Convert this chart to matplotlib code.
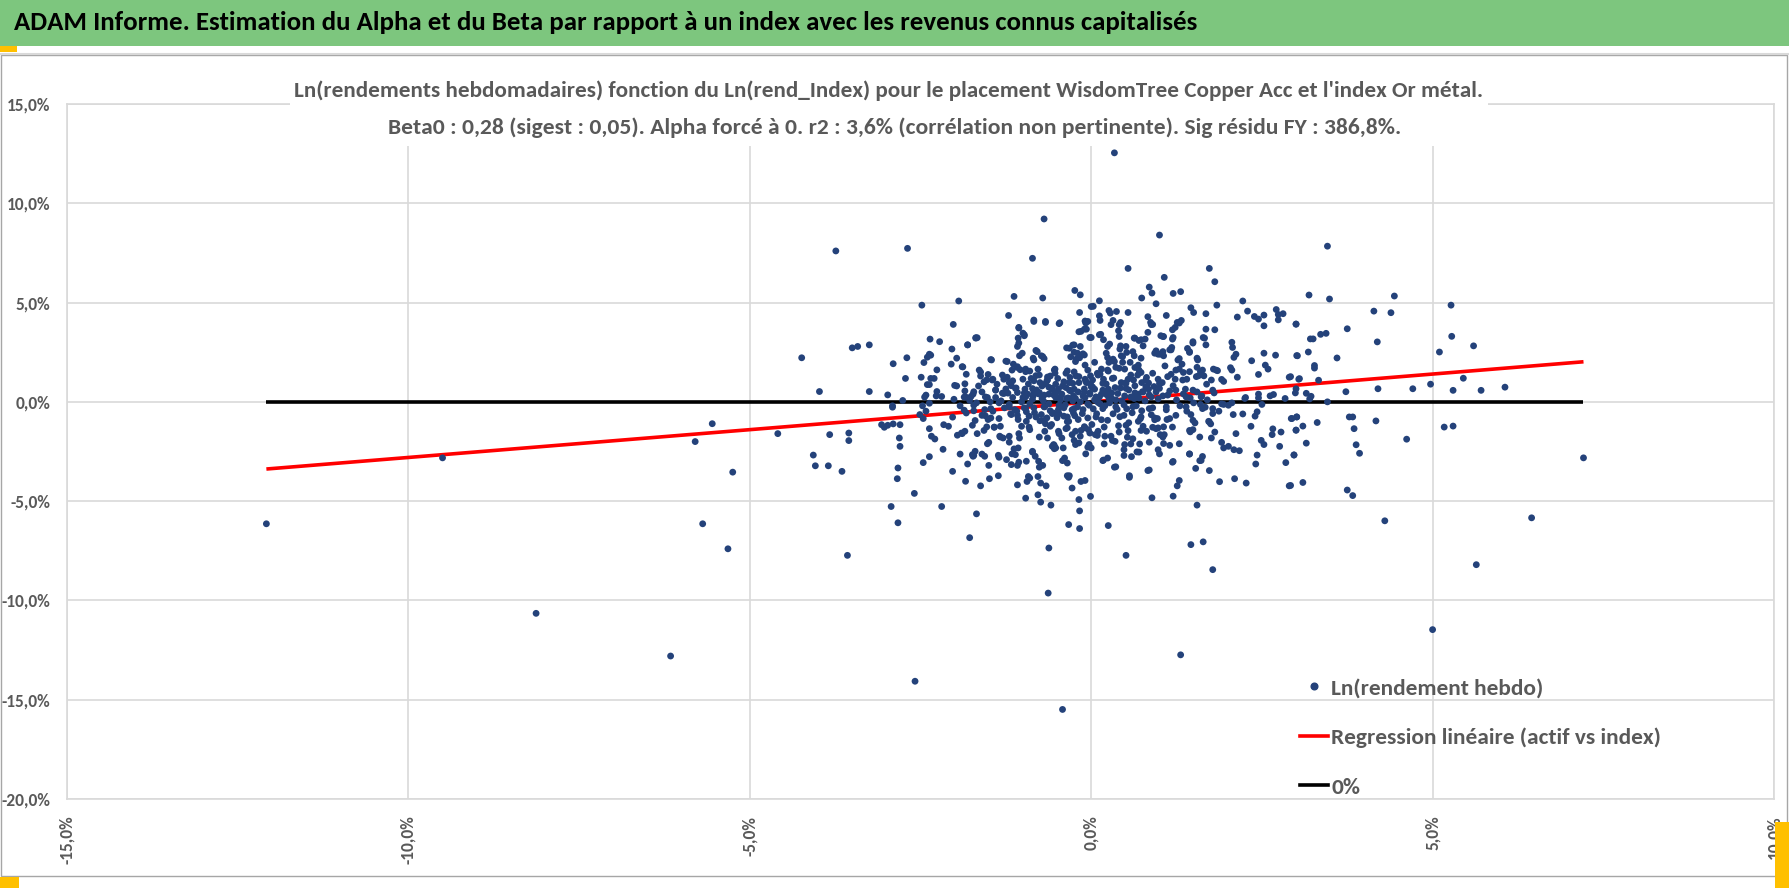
import matplotlib
matplotlib.use("Agg")
import matplotlib.pyplot as plt
from matplotlib import font_manager
from matplotlib.patches import Rectangle
from matplotlib.lines import Line2D
from matplotlib.ticker import FixedLocator, FuncFormatter

# ---------------- data (weekly log returns, in %) ----------------
# (index return, asset return) pairs, grouped by region
pts_far_left = [(-12.08, -6.14), (-9.50, -2.82), (-8.13, -10.65), (-6.16, -12.8), (-5.80, -2.0),
                (-5.55, -1.1), (-5.69, -6.14), (-5.25, -3.54), (-5.32, -7.4)]

pts_upper_left = [
    (-0.69, 9.21), (-0.86, 7.23), (-3.74, 7.60), (-2.69, 7.73), (-0.24, 5.61), (-0.16, 5.39), (-0.71, 5.23),
    (-1.13, 5.31), (-1.94, 5.08), (-2.48, 4.87), (-1.21, 4.35), (0.0, 4.8), (-0.17, 4.50), (-0.09, 4.07),
    (-0.84, 4.12), (-0.67, 4.05), (-0.46, 3.98), (-2.02, 3.90), (-0.18, 3.53), (-0.10, 3.66), (-1.06, 3.75),
    (-1.0, 3.46), (-0.98, 3.33), (-1.07, 3.21), (-1.08, 2.79), (-0.02, 3.24), (-1.69, 3.23), (-1.67, 3.23),
    (-2.36, 3.16), (-2.22, 3.03), (-1.81, 2.87), (-0.36, 2.72), (-0.27, 2.86), (-0.16, 2.79), (-2.04, 2.66),
    (-3.50, 2.72), (-3.42, 2.79), (-3.25, 2.87), (-4.24, 2.22), (-0.81, 2.59), (-0.73, 2.32), (-0.85, 2.20),
    (-0.69, 2.18), (-1.05, 2.32), (-0.30, 2.27), (-0.22, 2.15), (-0.12, 2.42), (-0.17, 2.22), (-0.25, 2.5),
    (-2.37, 2.4), (-2.40, 2.25), (-2.35, 2.35), (-1.97, 2.2), (-2.45, 1.98), (-2.70, 2.22), (-2.90, 1.92),
    (-2.05, 1.90), (-2.26, 1.61), (-1.88, 1.76), (-1.47, 2.13), (-1.25, 2.05), (-1.14, 1.90), (-1.09, 1.74),
    (-1.04, 1.62), (-0.96, 1.65), (-0.90, 1.55), (-0.81, 1.32), (-0.78, 1.65), (-0.64, 1.25), (-0.53, 1.65),
    (-0.53, 1.45), (-0.35, 1.56), (-0.25, 1.51), (-0.31, 1.23), (-0.09, 1.85), (-0.01, 1.31), (-2.72, 1.18),
    (-2.49, 1.24), (-2.35, 1.18), (-2.30, 1.18), (-2.40, 0.87), (-2.37, 0.87), (-1.83, 1.39), (-1.85, 0.91),
    (-2.0, 0.83), (-1.97, 0.8), (-1.62, 1.5), (-1.62, 1.3), (-1.51, 1.38), (-1.53, 1.11), (-1.44, 1.14),
    (-1.38, 0.89), (-1.28, 1.14), (-1.23, 1.24), (-1.20, 0.97), (-1.15, 1.06), (-1.17, 0.81), (-1.0, 1.14),
    (-0.97, 0.64), (-0.84, 1.06), (-0.86, 0.67), (-0.75, 0.97), (-0.67, 0.91), (-0.62, 0.74), (-0.52, 0.89),
    (-0.48, 0.64), (-0.40, 1.01), (-0.37, 0.72), (-0.32, 0.97), (-0.25, 0.64), (-0.18, 0.97), (-0.09, 1.14),
    (-0.01, 0.89), (-3.98, 0.52), (-3.25, 0.52), (-2.98, 0.35), (-2.76, 0.07), (-2.44, 0.24), (-2.42, 0.34),
    (-2.26, 0.52), (-2.27, 0.30), (-2.19, 0.27), (-2.01, 0.13), (-1.86, 0.24), (-1.73, 0.39), (-1.76, 0.27),
    (-1.6, 0.5), (-1.52, 0.22), (-1.40, 0.22), (-1.30, 0.44), (-1.22, 0.44), (-1.15, 0.22), (-1.08, 0.47),
    (-1.0, 0.22), (-0.93, 0.39), (-0.86, 0.13), (-0.76, 0.47), (-0.72, 0.17), (-0.62, 0.39), (-0.52, 0.22),
    (-0.43, 0.39), (-0.36, 0.17), (-0.26, 0.30), (-0.19, 0.50), (-0.09, 0.22), (-0.02, 0.39), (-2.37, -0.07),
    (-2.47, -0.2), (-2.91, -0.2)]

pts_upper_right = [
    (0.34, 12.54), (1.0, 8.40), (0.54, 6.72), (1.07, 6.27), (1.73, 6.72), (1.81, 6.05), (0.85, 5.78),
    (0.89, 5.48), (0.74, 5.23), (1.20, 5.46), (1.31, 5.55), (0.95, 4.94), (0.03, 4.81), (0.12, 5.09),
    (0.26, 4.6), (0.37, 4.55), (0.28, 4.47), (0.54, 4.5), (1.84, 4.87), (2.22, 5.08), (2.29, 4.57),
    (1.46, 4.74), (1.50, 4.5), (1.68, 4.44), (1.10, 4.35), (0.83, 4.29), (0.87, 4.0), (0.90, 3.9),
    (2.14, 4.27), (2.39, 4.3), (2.45, 4.17), (2.53, 4.37), (2.53, 3.83), (2.71, 4.65), (2.74, 4.4),
    (2.74, 4.13), (2.81, 4.44), (3.0, 3.92), (-0.05, 4.05), (-0.07, 3.66), (0.12, 4.33), (0.13, 4.1),
    (0.32, 4.1), (0.43, 4.0), (0.40, 3.58), (0.0, 3.24), (0.14, 3.4), (0.18, 3.13), (0.27, 2.91),
    (0.41, 3.29), (0.43, 2.82), (0.42, 2.66), (0.64, 3.21), (0.70, 3.09), (0.79, 3.16), (0.76, 2.82),
    (0.83, 3.5), (1.02, 3.33), (1.06, 3.29), (1.01, 2.4), (1.06, 2.32), (1.20, 3.24), (1.23, 3.75),
    (1.26, 4.0), (1.32, 4.1), (1.19, 3.16), (0.95, 2.57), (0.98, 2.4), (1.18, 2.74), (1.17, 2.62),
    (1.29, 2.18), (1.41, 2.69), (1.44, 2.49), (1.49, 3.03), (1.64, 3.24), (1.68, 3.66), (1.55, 2.2),
    (2.06, 3.0), (2.07, 2.74), (2.12, 2.4), (2.09, 2.24), (2.35, 2.07), (2.53, 2.45), (2.70, 2.35),
    (3.02, 2.32), (2.55, 1.85), (2.59, 1.65), (2.45, 1.38), (2.90, 1.24), (3.04, 1.14), (2.04, 1.72),
    (2.06, 1.6), (2.14, 1.24), (1.79, 1.65), (1.85, 1.57), (1.91, 1.13), (1.94, 1.03), (1.65, 1.31),
    (1.69, 0.89), (1.55, 1.74), (1.60, 1.53), (1.57, 1.31), (1.29, 1.65), (1.33, 1.9), (1.35, 1.48),
    (1.40, 1.14), (1.38, 0.64), (1.08, 1.81), (1.17, 1.39), (1.23, 1.14), (1.20, 0.81), (0.98, 1.14),
    (1.04, 0.97), (0.92, 0.77), (0.84, 0.64), (0.05, 1.99), (0.15, 1.65), (0.13, 1.4), (0.18, 1.14),
    (0.24, 2.23), (0.26, 1.99), (0.32, 2.15), (0.36, 1.74), (0.44, 2.32), (0.46, 1.99), (0.49, 1.65),
    (0.52, 2.49), (0.57, 1.99), (0.63, 2.32), (0.64, 1.73), (0.69, 1.85), (0.73, 1.48), (0.81, 1.23),
    (0.74, 0.97), (0.64, 0.81), (0.54, 1.14), (0.44, 0.97), (0.35, 0.72), (0.25, 0.64), (0.15, 0.39),
    (0.05, 0.64), (-0.07, 0.97), (0.10, -0.03), (0.30, 0.17), (0.49, 0.30), (0.69, 0.39), (0.79, 0.05),
    (2.26, 0.22), (2.45, 0.39), (2.62, 0.3), (2.84, 0.17), (2.99, 0.45)]

pts_far_right = [
    (3.46, 7.84), (3.19, 5.38), (3.49, 5.18), (4.44, 5.33), (4.14, 4.57), (4.39, 4.49), (5.27, 4.87),
    (3.0, 3.91), (3.36, 3.40), (3.44, 3.45), (3.75, 3.68), (4.19, 3.02), (3.21, 3.17), (3.25, 3.17),
    (5.28, 3.30), (5.10, 2.51), (5.60, 2.82), (3.18, 2.51), (3.01, 2.33), (3.60, 2.21), (3.27, 1.83),
    (3.27, 1.70), (3.05, 1.17), (3.33, 1.09), (2.92, 1.27), (3.0, 0.66), (3.15, 0.43), (3.2, 0.15),
    (3.22, 0.28), (3.46, 0.0), (3.73, 0.51), (4.20, 0.66), (4.71, 0.66), (4.97, 0.89), (5.30, 0.58),
    (5.45, 1.19), (5.71, 0.58), (6.06, 0.74), (7.21, -2.82), (2.94, -0.84), (3.01, -0.76), (3.31, -1.04),
    (3.0, -1.42), (3.10, -1.22), (3.15, -2.08), (2.97, -2.67), (2.92, -4.21), (3.10, -4.06), (3.78, -0.76),
    (3.83, -0.76), (3.85, -1.35), (3.88, -2.16), (3.93, -2.59), (4.17, -0.96), (4.62, -1.88), (5.17, -1.27),
    (5.30, -1.22), (3.75, -4.44), (3.83, -4.72), (4.30, -5.99), (6.45, -5.84), (5.64, -8.20), (5.0, -11.47)]

pts_lower_left = [
    (-4.59, -1.60), (-3.83, -1.65), (-3.55, -1.57), (-3.55, -1.95), (-4.07, -2.68), (-4.04, -3.22),
    (-3.85, -3.22), (-3.65, -3.50), (-3.57, -7.73), (-3.07, -1.15), (-3.03, -1.28), (-2.98, -1.18),
    (-2.90, -1.11), (-2.80, -1.15), (-2.91, -0.27), (-2.81, -1.82), (-2.80, -2.24), (-2.83, -3.33),
    (-2.84, -3.87), (-2.93, -5.27), (-2.83, -6.09), (-2.59, -4.61), (-2.58, -14.07), (-2.46, -3.06),
    (-2.37, -2.76), (-2.51, -0.64), (-2.46, -0.84), (-2.42, -0.47), (-2.37, -1.35), (-2.34, -1.73),
    (-2.29, -1.87), (-2.17, -2.39), (-2.16, -1.15), (-2.09, -1.23), (-2.03, -0.77), (-2.19, -5.27),
    (-2.03, -3.50), (-1.96, -1.68), (-1.90, -1.57), (-1.85, -1.48), (-1.92, -2.63), (-1.84, -4.0),
    (-1.81, -3.13), (-1.83, -0.56), (-1.73, -2.74), (-1.70, -2.49), (-1.74, -2.66), (-1.70, -0.94),
    (-1.67, -1.6), (-1.62, -4.23), (-1.68, -5.64), (-1.78, -6.84), (-1.60, -2.63), (-1.56, -2.74),
    (-1.53, -1.26), (-1.51, -0.89), (-1.47, -0.81), (-1.42, -1.28), (-1.50, -2.04), (-1.50, -3.20),
    (-1.49, -3.87), (-1.36, -3.72), (-1.36, -2.69), (-1.33, -1.23), (-1.34, -1.73), (-1.29, -1.82),
    (-1.20, -1.73), (-1.24, -2.91), (-1.17, -3.16), (-1.13, -2.37), (-1.11, -2.66), (-1.08, -3.20),
    (-1.08, -4.18), (-1.07, -2.32), (-1.05, -1.82), (-1.17, -0.64), (-1.09, -0.47), (-1.02, -1.23),
    (-0.95, -0.98), (-0.90, -1.40), (-0.95, -2.99), (-0.96, -4.85), (-0.92, -3.76), (-0.94, -4.01),
    (-0.90, -3.84), (-0.86, -2.49), (-0.82, -2.74), (-0.78, -4.68), (-0.74, -5.05), (-0.78, -3.76),
    (-0.74, -4.09), (-0.77, -2.99), (-0.71, -3.20), (-0.66, -4.23), (-0.59, -5.2), (-0.62, -7.36),
    (-0.63, -9.63), (-0.42, -15.49), (-0.57, -2.24), (-0.52, -2.32), (-0.55, -2.15), (-0.41, -2.32),
    (-0.39, -2.83), (-0.35, -3.08), (-0.35, -3.72), (-0.33, -3.80), (-0.28, -4.34), (-0.33, -6.18),
    (-0.17, -6.38), (-0.17, -5.49), (-0.18, -4.92), (-0.15, -4.01), (-0.09, -3.96), (-0.01, -4.76),
    (-0.23, -2.15), (-0.18, -2.07), (-0.03, -2.15), (0.0, -2.32), (-0.68, -1.48), (-0.64, -1.82),
    (-0.58, -1.14), (-0.48, -1.48), (-0.43, -1.82), (-0.35, -1.31), (-0.28, -1.65), (-0.23, -1.48),
    (-0.16, -1.73), (-0.09, -1.31), (-0.02, -1.57), (-0.73, -0.64), (-0.70, -0.94), (-0.65, -0.81),
    (-0.60, -1.23), (-0.55, -0.56), (-0.48, -0.39), (-0.40, -0.72), (-0.33, -0.98), (-0.26, -0.56),
    (-0.19, -0.89), (-0.12, -0.39), (-0.05, -0.81), (0.01, -1.14), (-0.84, -0.30), (-0.91, -0.72),
    (-0.98, -0.30), (-1.07, -0.89), (-1.12, -0.39), (-1.20, -0.13), (-1.27, -0.30), (-1.35, -0.05),
    (-1.44, -0.47), (-1.56, -0.39), (-1.68, -0.05), (-1.78, 0.07)]

pts_lower_right = [
    (0.25, -6.23), (0.51, -7.73), (0.56, -3.72), (0.36, -3.27), (0.18, -2.93), (0.24, -2.83), (0.85, -3.43),
    (0.89, -4.83), (1.20, -4.75), (1.20, -3.0), (1.26, -4.23), (1.29, -3.96), (1.31, -12.74), (1.55, -5.2),
    (1.46, -7.19), (1.64, -7.05), (1.78, -8.45), (1.44, -2.63), (1.53, -3.35), (1.61, -2.95), (1.63, -2.75),
    (1.88, -4.02), (2.10, -3.87), (2.27, -4.09), (2.41, -3.13), (2.43, -2.68), (2.49, -1.94), (2.53, -2.15),
    (2.66, -1.36), (2.65, -1.65), (2.76, -2.24), (2.78, -1.52), (2.85, -3.06), (2.90, -4.23), (2.97, -2.68),
    (2.93, -0.84), (3.01, -0.76), (3.0, -1.43), (2.34, -1.23), (2.40, -0.72), (2.43, -0.50), (2.12, -1.60),
    (2.17, -2.46), (2.09, -2.41), (2.01, -2.24), (1.94, -2.32), (1.91, -2.04), (1.76, -1.82), (1.72, -0.98),
    (1.75, -1.11), (1.87, -0.47), (1.94, -0.13), (2.01, -0.17), (2.08, -0.64), (2.22, -0.61), (1.78, -0.34),
    (1.67, -0.27), (1.60, -0.13), (1.40, -0.47), (1.46, -0.64), (1.49, -1.40), (1.45, -1.51), (1.52, -1.06),
    (1.15, -2.19), (1.06, -2.10), (0.98, -2.41), (1.11, -0.89), (1.15, -0.84), (1.06, -1.26), (1.01, -1.65),
    (1.07, -1.65), (0.90, -1.28), (0.93, -0.81), (0.98, -1.31), (0.81, -1.48), (0.76, -1.23), (0.69, -0.98),
    (0.71, -2.12), (0.67, -2.52), (0.59, -2.76), (0.49, -2.15), (0.48, -2.41), (0.53, -1.78), (0.58, -2.12),
    (0.54, -1.45), (0.35, -1.99), (0.29, -1.73), (0.20, -1.73), (0.19, -2.12), (0.10, -1.48), (0.06, -1.65),
    (-0.04, -1.40), (2.50, -0.13), (2.45, 0.2), (2.67, 0.37), (2.25, 0.17), (1.91, -0.1), (2.06, -0.05)]

pts_core = [
    (0.05, 0.1), (-0.05, -0.1), (0.12, 0.25), (-0.12, 0.3), (0.2, -0.2), (-0.2, -0.25), (0.3, 0.45),
    (-0.3, 0.55), (0.38, -0.38), (-0.38, -0.15), (0.45, 0.05), (-0.45, 0.1), (0.55, 0.6), (-0.55, 0.35),
    (0.6, -0.55), (-0.6, -0.45), (0.7, 0.2), (-0.7, 0.05), (0.8, 0.75), (-0.8, 0.6), (0.9, -0.3),
    (-0.9, -0.1), (0.02, 0.75), (0.08, -0.6), (-0.08, 1.05), (0.15, -0.9), (0.22, 0.9), (-0.24, -0.7),
    (0.33, 1.2), (-0.35, -1.0), (0.42, -0.75), (-0.42, 0.8), (0.5, 0.95), (-0.5, -0.8), (0.62, 1.1),
    (-0.65, 1.05), (0.72, -0.85), (-0.75, -0.95), (0.85, 0.35), (-0.85, 0.3), (0.95, 0.5), (-0.95, -0.5),
    (0.18, 0.55), (-0.16, 0.0), (0.27, -0.05), (-0.28, -0.4), (0.36, 0.1), (-0.34, 0.2), (0.48, -0.15),
    (-0.47, -0.6), (0.58, 0.25), (-0.58, 0.65), (0.66, -0.2), (-0.68, -0.25), (0.76, 0.5), (-0.77, 0.4),
    (0.1, 1.35), (-0.1, -1.25), (0.25, 1.55), (-0.22, 1.3), (0.4, -1.2), (0.55, -1.05), (0.68, 1.35),
    (-0.6, 1.3), (0.88, -0.65), (0.98, 0.15), (0.03, -0.35), (-0.02, 0.45), (0.13, -0.1), (-0.1, 0.65),
    (0.23, 0.35), (-0.27, 0.05), (0.32, -0.6), (-0.4, -0.3), (0.43, 0.7), (-0.52, 0.45), (0.52, -0.35),
    (-0.62, -0.1), (0.64, 0.45), (-0.72, 0.8), (0.74, -0.45), (-0.83, -0.55), (0.84, 0.95), (-0.92, 0.9),
    (0.93, -0.9), (-0.98, 0.45), (1.05, 0.3), (1.1, -0.4), (1.15, 0.55), (1.25, 0.1), (1.3, -0.2),
    (1.35, 0.4), (1.45, 0.2), (1.5, -0.05), (1.55, 0.5), (1.62, 0.3), (1.7, 0.1), (1.8, 0.45),
    (-1.02, 0.0), (-1.1, 0.7), (-1.18, -0.6), (-1.25, 0.65), (-1.32, 0.05), (-1.4, 0.6), (-1.48, 0.0),
    (-1.55, -0.7), (-1.65, 0.8), (-1.72, -0.45), (-1.85, 0.55), (-1.92, -0.2)]

pts_core_extra = [
    (-1.06, 3.72), (-0.98, 3.38), (-1.69, 3.21), (-1.81, 2.87), (-0.84, 4.05), (-0.67, 4.0), (-0.47, 3.94),
    (-0.15, 3.55), (-0.08, 3.97), (0.12, 3.38), (0.29, 3.89), (0.41, 3.89), (0.63, 3.21), (0.73, 3.13),
    (0.88, 3.89), (1.05, 3.29), (1.19, 3.63), (1.29, 3.97), (1.66, 3.21), (1.81, 3.63), (1.68, 2.87),
    (-1.06, 2.96), (-1.01, 2.45), (-0.79, 2.53), (-0.71, 2.28), (-0.84, 2.11), (-0.32, 2.7), (-0.25, 2.87),
    (-0.2, 2.45), (-0.1, 2.36), (-0.23, 2.03), (0.22, 2.45), (0.24, 2.79), (0.34, 2.03), (0.46, 2.28),
    (0.51, 2.79), (0.61, 2.53), (0.73, 2.2), (0.93, 2.45), (1.05, 2.53), (1.15, 2.62), (1.27, 2.11),
    (1.44, 2.53), (1.49, 2.96), (1.56, 2.11), (-1.46, 2.11), (-1.89, 1.77), (-1.23, 2.03),
    (-1.64, 1.6), (-1.57, 1.01), (-1.45, 1.1), (-1.3, 1.35), (-1.16, 1.6), (-1.08, 1.77), (-0.96, 1.52),
    (-0.88, 1.18), (-0.76, 1.35), (-0.64, 1.1), (-0.54, 1.6), (-0.49, 1.18), (-0.37, 1.44), (-0.27, 0.93),
    (-0.18, 1.27), (-0.05, 1.6), (0.02, 1.1), (0.09, 1.44), (0.17, 0.93), (0.24, 1.6), (0.31, 1.18),
    (0.41, 1.69), (0.51, 0.93), (0.58, 1.35), (0.7, 1.6), (0.8, 1.1), (0.9, 1.44), (1.0, 0.93),
    (1.12, 1.27), (1.24, 1.6), (1.34, 1.1), (1.44, 1.52), (1.54, 1.27), (1.63, 1.6), (1.76, 1.1), (1.83, 1.6),
    (-1.84, 0.25), (-1.72, 0.51), (-1.55, 0.25), (-1.4, 0.59), (-1.28, 0.42), (-1.11, 0.68), (-0.96, 0.25),
    (-0.84, 0.51), (-0.69, 0.34), (-0.57, 0.68), (-0.45, 0.25), (-0.32, 0.59), (-0.23, 0.17), (-0.1, 0.51),
    (0.0, 0.76), (0.07, 0.25), (0.17, 0.59), (0.26, 0.17), (0.39, 0.42), (0.51, 0.68), (0.63, 0.17),
    (0.75, 0.51), (0.88, 0.25), (1.0, 0.68), (1.12, 0.34), (1.24, 0.59), (1.39, 0.25), (1.49, 0.59),
    (1.61, 0.25), (1.78, 0.59),
    (-1.86, -0.42), (-1.72, -0.17), (-1.6, -0.68), (-1.47, -0.34), (-1.35, -0.84), (-1.2, -0.25),
    (-1.08, -0.68), (-0.96, -0.34), (-0.81, -0.76), (-0.69, -0.25), (-0.57, -0.59), (-0.47, -0.17),
    (-0.35, -0.76), (-0.25, -0.34), (-0.13, -0.59), (-0.03, -0.17), (0.07, -0.76), (0.17, -0.34),
    (0.24, -0.93), (0.36, -0.25), (0.48, -0.68), (0.61, -0.25), (0.73, -0.76), (0.85, -0.34), (0.97, -0.84),
    (1.1, -0.25), (1.24, -0.68), (1.39, -0.25), (1.49, -0.93), (1.63, -0.34), (1.78, -0.59),
    (-1.89, -1.6), (-1.74, -1.18), (-1.57, -1.44), (-1.42, -1.27), (-1.33, -1.77), (-1.2, -2.03),
    (-1.06, -1.6), (-0.91, -1.27), (-0.76, -1.77), (-0.67, -1.1), (-0.54, -2.2), (-0.47, -1.6),
    (-0.37, -1.35), (-0.25, -1.94), (-0.15, -1.44), (-0.05, -2.28), (0.09, -1.69), (0.19, -1.27),
    (0.31, -1.94), (0.41, -1.52), (0.51, -1.18), (0.61, -1.86), (0.73, -1.44), (0.85, -2.03), (0.95, -1.35),
    (1.05, -1.77), (1.19, -1.27), (1.29, -2.11), (1.44, -1.44), (1.59, -1.77), (1.73, -1.01), (1.81, -1.52),
    (-1.72, -2.7), (-1.52, -2.11), (-1.35, -2.79), (-1.16, -2.62), (-1.06, -3.04), (-0.86, -2.53),
    (-0.76, -3.29), (-0.54, -2.36), (-0.42, -2.96), (-0.32, -3.72), (-0.08, -2.62), (0.17, -2.96),
    (0.34, -3.29), (0.48, -2.7), (0.56, -3.8), (0.7, -2.53), (0.83, -3.46), (1.0, -2.62), (1.19, -3.04),
    (1.44, -2.62), (1.59, -2.96), (1.73, -3.46)]

beta0 = 0.28          # regression slope (alpha forced to 0)
x_ticks = [-15, -10, -5, 0, 5, 10]
y_ticks = [-20, -15, -10, -5, 0, 5, 10, 15]

title_txt = ("ADAM Informe. Estimation du Alpha et du Beta par rapport à un index "
             "avec les revenus connus capitalisés")
sub1 = ("Ln(rendements hebdomadaires) fonction du Ln(rend_Index) pour le placement "
        "WisdomTree Copper Acc et l'index Or métal.")
sub2 = ("Beta0 : 0,28 (sigest : 0,05). Alpha forcé à 0. r2 : 3,6% (corrélation non "
        "pertinente). Sig résidu FY : 386,8%.")
legend_labels = ["Ln(rendement hebdo)", "Regression linéaire (actif vs index)", "0%"]

# ---------------- assemble ----------------
all_pts = (pts_far_left + pts_upper_left + pts_upper_right + pts_far_right
           + pts_lower_left + pts_lower_right + pts_core + pts_core_extra)
xs = [p[0] / 100 for p in all_pts]
ys = [p[1] / 100 for p in all_pts]

names = {f.name for f in font_manager.fontManager.ttflist}
FONT = "Carlito" if "Carlito" in names else "Lato"
plt.rcParams["font.family"] = [FONT, "DejaVu Sans"]

W, H = 1790, 888
fig = plt.figure(figsize=(W / 100, H / 100), dpi=100)
fig.patch.set_facecolor("white")

def fx(px):
    return px / W

def fy(py):
    return 1 - py / H

L, R, T, B = 67, 1774, 104, 799
ax = fig.add_axes([fx(L), fy(B), fx(R - L), (B - T) / H])
ax.set_xlim(-0.15, 0.10)
ax.set_ylim(-0.20, 0.15)

grid_c = "#D9D9D9"
ax.xaxis.set_major_locator(FixedLocator([v / 100 for v in x_ticks]))
ax.yaxis.set_major_locator(FixedLocator([v / 100 for v in y_ticks]))
pct = FuncFormatter(lambda v, p: ("%.1f%%" % (v * 100)).replace(".", ",").replace("−", "-"))
ax.xaxis.set_major_formatter(pct)
ax.yaxis.set_major_formatter(pct)
ax.grid(True, color=grid_c, lw=1.2, zorder=0)
ax.set_axisbelow(True)
for s in ax.spines.values():
    s.set_color(grid_c)
    s.set_linewidth(1.2)
ax.tick_params(axis="both", length=0, labelcolor="#595959", labelsize=12.5)
ax.tick_params(axis="x", pad=12, labelrotation=90)
ax.tick_params(axis="y", pad=12)
for lab in ax.get_xticklabels() + ax.get_yticklabels():
    lab.set_fontweight("bold")

xmin, xmax = min(xs), max(xs)
ax.plot([xmin, xmax], [beta0 * xmin, beta0 * xmax], color="#FF0000", lw=2.6, zorder=2,
        solid_capstyle="butt")
ax.plot([xmin, xmax], [0, 0], color="black", lw=2.6, zorder=2, solid_capstyle="butt")
ax.scatter(xs, ys, s=24, color="#24427A", edgecolors="none", zorder=3)

# legend
handles = [Line2D([], [], ls="none", marker="o", ms=4.8, color="#24427A"),
           Line2D([], [], color="#FF0000", lw=2.6),
           Line2D([], [], color="black", lw=2.6)]
leg = ax.legend(handles, legend_labels, loc="upper left",
                bbox_to_anchor=(fx(1300), fy(678)), bbox_transform=fig.transFigure,
                frameon=False, fontsize=16.8, handlelength=1.2, handletextpad=0.15,
                labelspacing=1.25, borderaxespad=0, borderpad=0)
for t in leg.get_texts():
    t.set_color("#595959")
    t.set_fontweight("bold")

# title bar
fig.patches.append(Rectangle((0, fy(46)), 1, 46 / H, transform=fig.transFigure,
                             facecolor="#7DC67E", edgecolor="none", zorder=1))
fig.patches.append(Rectangle((0, fy(52)), fx(17), 6 / H, transform=fig.transFigure,
                             facecolor="#FFC000", edgecolor="none", zorder=1))
fig.lines.append(Line2D([0, 1], [fy(54), fy(54)], transform=fig.transFigure,
                        color="#D9D9D9", lw=1.5))
# chart frame
fig.patches.append(Rectangle((fx(1), fy(876)), fx(1786), (876 - 55) / H, transform=fig.transFigure,
                             facecolor="none", edgecolor="#A6A6A6", lw=1, zorder=1))
fig.patches.append(Rectangle((0, 0), fx(19), 11 / H, transform=fig.transFigure,
                             facecolor="#FFC000", edgecolor="none", zorder=1))
fig.patches.append(Rectangle((fx(1775), 0), fx(15), 66 / H, transform=fig.transFigure,
                             facecolor="#FFC000", edgecolor="none", zorder=1))

# white box behind the chart title (hides top gridline)
fig.patches.append(Rectangle((fx(290), fy(146)), fx(1198), 76 / H, transform=fig.transFigure,
                             facecolor="white", edgecolor="none", zorder=1))

renderer = fig.canvas.get_renderer()

def fit(t, width_px):
    w = t.get_window_extent(renderer).width
    t.set_fontsize(t.get_fontsize() * width_px / w)

t0 = fig.text(fx(14), fy(23), title_txt, ha="left", va="center", fontsize=20,
              fontweight="bold", color="black", zorder=5)
fit(t0, 1182)
t1 = fig.text(fx(889), fy(91), sub1, ha="center", va="center", fontsize=15,
              fontweight="bold", color="#595959", zorder=5)
fit(t1, 1190)
t2 = fig.text(fx(895), fy(128), sub2, ha="center", va="center", fontsize=15,
              fontweight="bold", color="#595959", zorder=5)
fit(t2, 1014)

fig.savefig("out.png", dpi=100, facecolor="white")
